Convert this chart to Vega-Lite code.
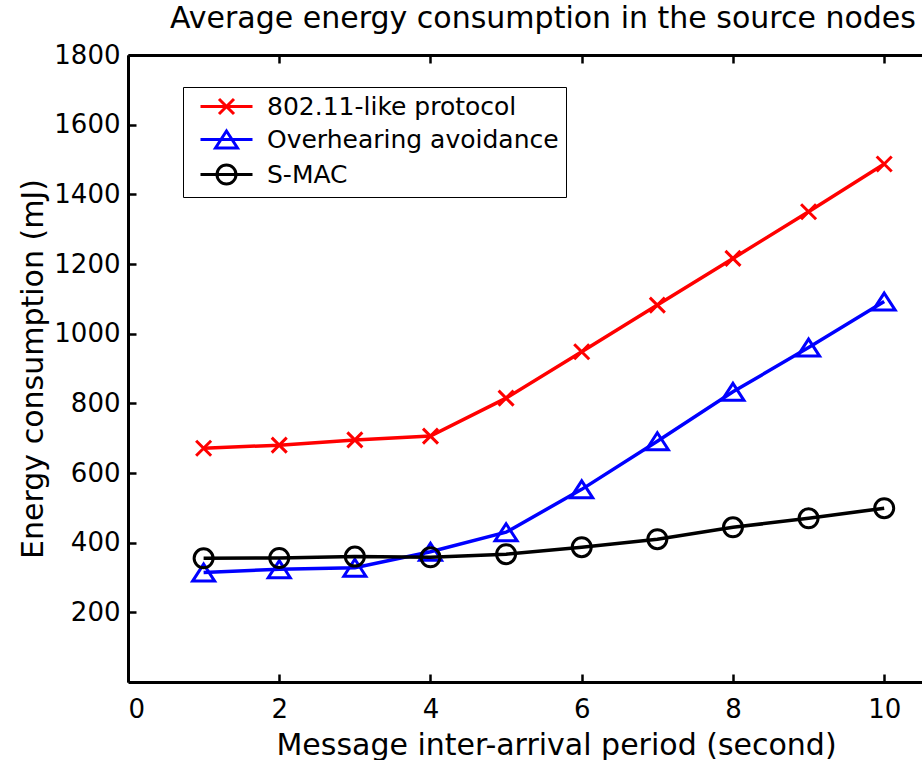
{
  "$schema": "https://vega.github.io/schema/vega-lite/v6.json",
  "autosize": "none",
  "width": 794,
  "height": 627,
  "padding": {"left": 128, "top": 55, "right": 0, "bottom": 78},
  "background": "white",
  "title": {
    "text": "Average energy consumption in the source nodes",
    "font": "DejaVu Sans",
    "fontSize": 30,
    "fontWeight": "normal",
    "color": "black",
    "anchor": "middle",
    "frame": "group",
    "baseline": "alphabetic",
    "offset": -16,
    "dx": 18
  },
  "data": {
    "values": [
      {"period": 1, "energy": 671, "protocol": "802.11-like protocol"},
      {"period": 2, "energy": 680, "protocol": "802.11-like protocol"},
      {"period": 3, "energy": 695, "protocol": "802.11-like protocol"},
      {"period": 4, "energy": 706, "protocol": "802.11-like protocol"},
      {"period": 5, "energy": 815, "protocol": "802.11-like protocol"},
      {"period": 6, "energy": 948, "protocol": "802.11-like protocol"},
      {"period": 7, "energy": 1082, "protocol": "802.11-like protocol"},
      {"period": 8, "energy": 1216, "protocol": "802.11-like protocol"},
      {"period": 9, "energy": 1350, "protocol": "802.11-like protocol"},
      {"period": 10, "energy": 1487, "protocol": "802.11-like protocol"},
      {"period": 1, "energy": 314, "protocol": "Overhearing avoidance"},
      {"period": 2, "energy": 324, "protocol": "Overhearing avoidance"},
      {"period": 3, "energy": 328, "protocol": "Overhearing avoidance"},
      {"period": 4, "energy": 374, "protocol": "Overhearing avoidance"},
      {"period": 5, "energy": 430, "protocol": "Overhearing avoidance"},
      {"period": 6, "energy": 553, "protocol": "Overhearing avoidance"},
      {"period": 7, "energy": 691, "protocol": "Overhearing avoidance"},
      {"period": 8, "energy": 833, "protocol": "Overhearing avoidance"},
      {"period": 9, "energy": 960, "protocol": "Overhearing avoidance"},
      {"period": 10, "energy": 1092, "protocol": "Overhearing avoidance"},
      {"period": 1, "energy": 355, "protocol": "S-MAC"},
      {"period": 2, "energy": 356, "protocol": "S-MAC"},
      {"period": 3, "energy": 360, "protocol": "S-MAC"},
      {"period": 4, "energy": 358, "protocol": "S-MAC"},
      {"period": 5, "energy": 367, "protocol": "S-MAC"},
      {"period": 6, "energy": 387, "protocol": "S-MAC"},
      {"period": 7, "energy": 410, "protocol": "S-MAC"},
      {"period": 8, "energy": 444, "protocol": "S-MAC"},
      {"period": 9, "energy": 470, "protocol": "S-MAC"},
      {"period": 10, "energy": 499, "protocol": "S-MAC"}
    ]
  },
  "layer": [
    {
      "transform": [{"filter": "datum.protocol === '802.11-like protocol'"}],
      "mark": {"type": "line", "strokeWidth": 3.5, "clip": false, "color": "#ff0000"},
      "encoding": {
        "x": {
          "field": "period", "type": "quantitative",
          "scale": {"domain": [0, 10.5], "nice": false, "zero": false},
          "axis": {
            "orient": "bottom",
            "values": [0, 2, 4, 6, 8, 10],
            "title": "Message inter-arrival period (second)",
            "titleX": 428,
            "titleBaseline": "alphabetic",
            "titlePadding": 32,
            "labelPadding": 22,
            "labelBaseline": "top"
          }
        },
        "y": {
          "field": "energy", "type": "quantitative",
          "scale": {"domain": [0, 1800], "nice": false},
          "axis": {
            "orient": "left",
            "format": "d",
            "values": [200, 400, 600, 800, 1000, 1200, 1400, 1600, 1800],
            "title": "Energy consumption (mJ)",
            "titleBaseline": "alphabetic",
            "titlePadding": 11,
            "labelPadding": 16
          }
        }
      }
    },
    {
      "transform": [{"filter": "datum.protocol === '802.11-like protocol'"}],
      "mark": {"type": "point", "filled": false, "size": 400, "strokeWidth": 3, "opacity": 1, "clip": false, "color": "#ff0000", "shape": "M-0.75,-0.75L0.75,0.75M-0.75,0.75L0.75,-0.75"},
      "encoding": {
        "x": {
          "field": "period", "type": "quantitative",
          "axis": {
            "orient": "top",
            "values": [0, 2, 4, 6, 8, 10],
            "labels": false,
            "title": null
          }
        },
        "y": {"field": "energy", "type": "quantitative"}
      }
    },
    {
      "transform": [{"filter": "datum.protocol === 'Overhearing avoidance'"}],
      "mark": {"type": "line", "strokeWidth": 3.5, "clip": false, "color": "#0000ff"},
      "encoding": {
        "x": {"field": "period", "type": "quantitative", "axis": null},
        "y": {"field": "energy", "type": "quantitative"}
      }
    },
    {
      "transform": [{"filter": "datum.protocol === 'Overhearing avoidance'"}],
      "mark": {"type": "point", "filled": false, "size": 400, "strokeWidth": 3, "opacity": 1, "clip": false, "color": "#0000ff", "shape": "M0,-0.85L1.1,0.85L-1.1,0.85Z"},
      "encoding": {
        "x": {"field": "period", "type": "quantitative", "axis": null},
        "y": {"field": "energy", "type": "quantitative"}
      }
    },
    {
      "transform": [{"filter": "datum.protocol === 'S-MAC'"}],
      "mark": {"type": "line", "strokeWidth": 3.5, "clip": false, "color": "#000000"},
      "encoding": {
        "x": {"field": "period", "type": "quantitative", "axis": null},
        "y": {"field": "energy", "type": "quantitative"}
      }
    },
    {
      "transform": [{"filter": "datum.protocol === 'S-MAC'"}],
      "mark": {"type": "point", "filled": false, "size": 400, "strokeWidth": 3, "opacity": 1, "clip": false, "color": "#000000", "shape": "M0.95,0A0.95,0.95,0,1,1,-0.95,0A0.95,0.95,0,1,1,0.95,0Z"},
      "encoding": {
        "x": {"field": "period", "type": "quantitative", "axis": null},
        "y": {"field": "energy", "type": "quantitative"}
      }
    },
    {
      "mark": {"type": "point", "filled": false, "size": 400, "strokeWidth": 3, "opacity": 0, "clip": false},
      "encoding": {
        "x": {"field": "period", "type": "quantitative", "axis": null},
        "y": {"field": "energy", "type": "quantitative"},
        "color": {
          "field": "protocol", "type": "nominal",
          "scale": {"domain": ["802.11-like protocol", "Overhearing avoidance", "S-MAC"], "range": ["#ff0000", "#0000ff", "#000000"]}
        },
        "shape": {
          "field": "protocol", "type": "nominal",
          "scale": {
            "domain": ["802.11-like protocol", "Overhearing avoidance", "S-MAC"],
            "range": [
              "M-2.6,0L2.6,0M-0.75,-0.75L0.75,0.75M-0.75,0.75L0.75,-0.75",
              "M-2.6,0L2.6,0M0,-0.85L1.1,0.85L-1.1,0.85Z",
              "M-2.6,0L2.6,0M0.95,0A0.95,0.95,0,1,1,-0.95,0A0.95,0.95,0,1,1,0.95,0Z"
            ]
          }
        }
      }
    }
  ],
  "resolve": {"axis": {"x": "independent"}},
  "config": {
    "view": {"stroke": null},
    "legend": {
      "title": null,
      "orient": "none",
      "legendX": 55,
      "legendY": 32,
      "padding": 7,
      "symbolOffset": 24,
      "labelOffset": 28,
      "rowPadding": 5,
      "labelLimit": 400,
      "symbolSize": 400,
      "symbolStrokeWidth": 3,
      "symbolOpacity": 1,
      "labelFontSize": 25,
      "labelFont": "DejaVu Sans",
      "labelColor": "black",
      "strokeColor": "black",
      "fillColor": "white"
    },
    "axis": {
      "grid": false,
      "domainColor": "black",
      "domainWidth": 3,
      "tickColor": "black",
      "tickWidth": 2.5,
      "tickSize": -8,
      "labelFont": "DejaVu Sans",
      "labelFontSize": 26,
      "labelColor": "black",
      "titleFont": "DejaVu Sans",
      "titleFontSize": 30,
      "titleFontWeight": "normal",
      "titleColor": "black"
    }
  }
}
